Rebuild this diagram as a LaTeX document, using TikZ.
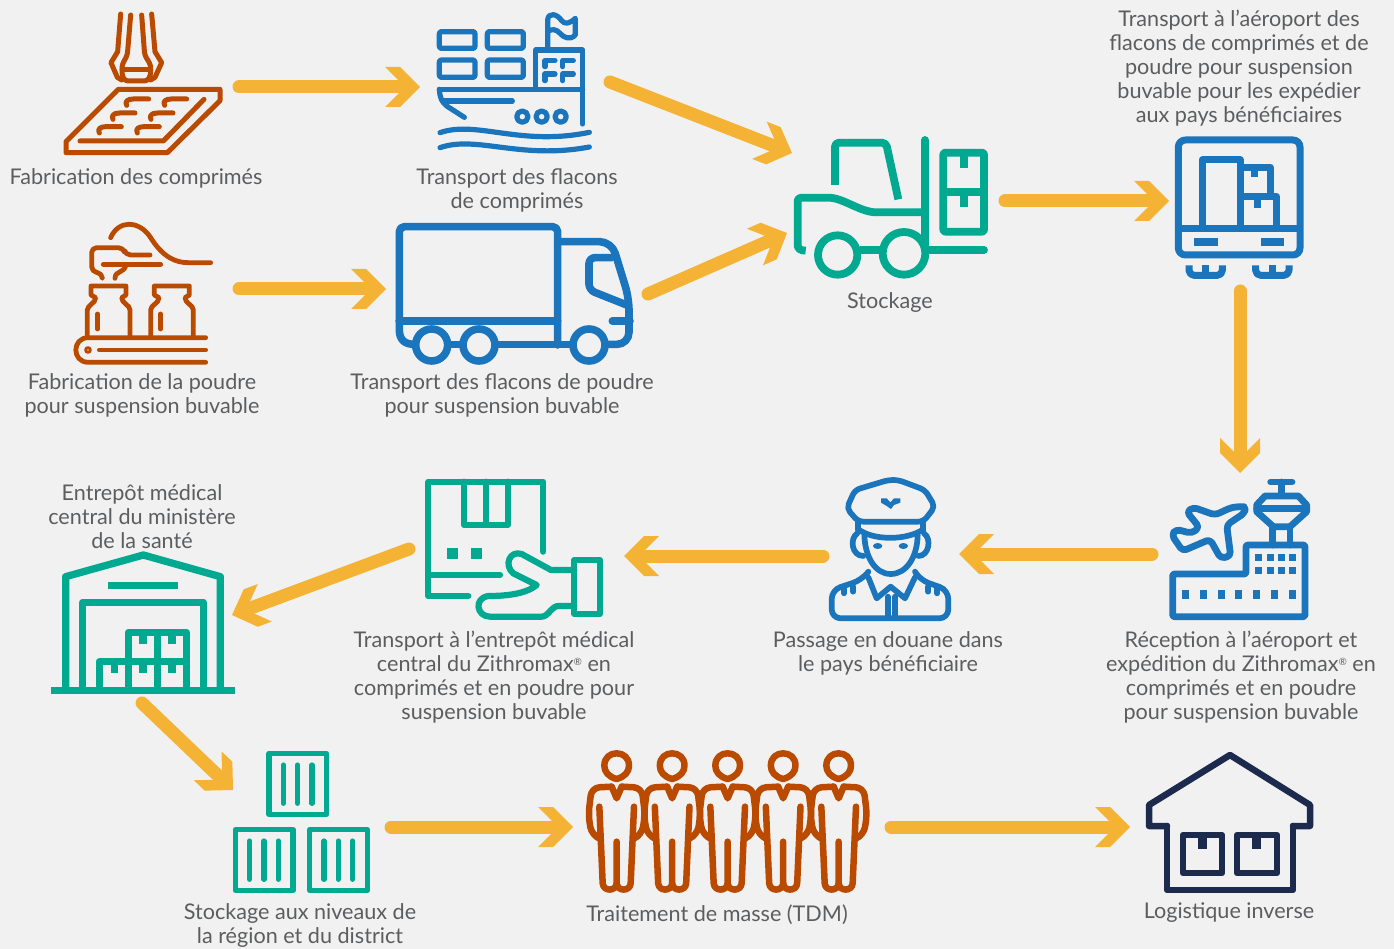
\documentclass[tikz,border=0pt]{standalone}
\usepackage{fontspec}
\setmainfont{Lato}
\usetikzlibrary{arrows.meta}
\definecolor{bgc}{HTML}{F1F1F1}
\definecolor{rustc}{HTML}{BA4A00}
\definecolor{bluec}{HTML}{1B75BC}
\definecolor{tealc}{HTML}{00A98F}
\definecolor{navyc}{HTML}{1C2B4D}
\definecolor{arrowc}{HTML}{F4B335}
\definecolor{textc}{HTML}{5C5D5F}
\pgfdeclarearrow{
  name=Chev,
  setup code={
    \pgfarrowssettipend{0pt}
    \pgfarrowssetlineend{-17pt}
    \pgfarrowssetvisualbackend{-17pt}
    \pgfarrowssetbackend{-35pt}
  },
  drawing code={
    \pgfsetfillcolor{arrowc}
    \pgfpathmoveto{\pgfqpoint{0pt}{0pt}}
    \pgfpathlineto{\pgfqpoint{-20pt}{20pt}}
    \pgfpathlineto{\pgfqpoint{-35pt}{20pt}}
    \pgfpathlineto{\pgfqpoint{-15pt}{0pt}}
    \pgfpathlineto{\pgfqpoint{-35pt}{-20pt}}
    \pgfpathlineto{\pgfqpoint{-20pt}{-20pt}}
    \pgfpathclose
    \pgfusepathqfill
  }
}
\tikzset{
  zm/.style 2 args={shift={(#1,#2)},x=.33333pt,y=-.33333pt},
  icon/.style={line cap=round,line join=round},
  flow/.style={draw=arrowc,line width=13pt,line cap=round,-{Chev}},
  lab/.style={font=\fontsize{21.6}{24}\selectfont,text=textc,align=center,inner sep=0pt,anchor=center,yshift=-2pt},
  anch/.style={inner sep=0pt,minimum size=0pt},
}
\newcommand{\sq}[4]{\fill (#1,#2) rectangle (#3,#4);}
\newcommand{\regd}{\raisebox{.55ex}{\fontsize{10}{10}\selectfont ®}}
\begin{document}
\begin{tikzpicture}[x=1pt,y=-1pt]
\fill[bgc] (0,0) rectangle (1394,949);
\useasboundingbox (0,0) rectangle (1394,949);

% --- press
\begin{scope}[zm={40}{0},icon,draw=rustc,fill=rustc,line width=5pt]
\node[anch] (press) at (300,250) {};
\draw (242,42)--(233,155)--(213,188)--(232,232)--(245,240);
\draw[rounded corners=3pt] (272,45)--(262,165)--(246,195)--(246,225)--(255,243)--(322,243)--(332,225)--(332,195)--(314,165)--(305,45);
\draw (335,42)--(345,155)--(365,188)--(345,232)--(332,240);
\draw (246,208)--(332,208);
\draw (235,268)--(540,268)--(540,302)--(382,458)--(78,458)--(78,425)--cycle;
\draw (120,423)--(370,423)--(492,298);
\foreach \a/\b in {0/0,114/0,-41/42,73/42,-82/83,32/83}{
  \draw[shift={(\a,\b)}] (326,297)--(280,297) .. controls (262,297) and (254,305) .. (260,316);
}
\end{scope}

% --- ship
\begin{scope}[zm={420}{0},icon,draw=bluec,fill=bluec,line width=5.2pt]
\node[anch] (ship) at (280,200) {};
\draw[rounded corners=2pt] (58,95) rectangle (165,145);
\draw[rounded corners=2pt] (202,95) rectangle (310,145);
\draw[rounded corners=2pt] (58,180) rectangle (165,232);
\draw[rounded corners=2pt] (202,180) rectangle (310,232);
\draw (347,265)--(347,150)--(488,150)--(488,372);
\draw (58,268)--(488,268);
\draw (58,268) .. controls (60,295) and (65,305) .. (80,318) -- (133,352);
\draw (70,303)--(277,303);
\draw (307,350) circle[radius=17];
\draw (365,350) circle[radius=17];
\draw (422,350) circle[radius=17];
\draw (383,150)--(383,60) .. controls (385,35) and (412,42) .. (425,62) .. controls (435,75) and (450,70) .. (466,55) -- (466,105) .. controls (450,122) and (430,112) .. (420,100) .. controls (410,88) and (395,85) .. (383,95);
\draw (60,398) .. controls (170,360) and (300,440) .. (508,397);
\draw (60,443) .. controls (170,405) and (300,480) .. (508,441);
\draw (405,182)--(375,182)--(375,200);
\draw (460,182)--(428,182)--(428,200);
\draw (405,222)--(375,222)--(375,242);
\draw (460,222)--(428,222)--(428,242);
\end{scope}

% --- filling
\begin{scope}[zm={60}{215},icon,draw=rustc,fill=rustc,line width=4.8pt]
\node[anch] (filling) at (240,250) {};
\draw (152,68) .. controls (175,15) and (235,15) .. (270,65) .. controls (310,130) and (350,143) .. (385,143) -- (452,143);
\draw[rounded corners=5pt] (127,188)--(127,175)--(95,170)--(95,98)--(190,98)--(197,120)--(270,120);
\draw (130,148)--(302,148);
\draw (197,148) .. controls (197,175) and (165,165) .. (165,190);
\foreach \s in {0,190}{
 \draw[shift={(\s,0)}] (82,365)--(82,285) .. controls (82,270) and (107,265) .. (107,248) -- (93,240) -- (93,213) -- (198,213) -- (198,240) -- (185,248) .. controls (185,265) and (210,270) .. (210,285) -- (210,365);
 \draw[shift={(\s,0)}] (112,297)--(112,342);
}
\draw (437,368)--(85,368) .. controls (35,368) and (35,442) .. (85,442) -- (437,442);
\draw (118,405)--(437,405);
\draw[line width=3pt] (84,405) circle[radius=7];
\end{scope}

% --- truck
\begin{scope}[zm={385}{215},icon,draw=bluec,fill=bluec,line width=7.6pt]
\node[anch] (truck) at (380,230) {};
\draw[rounded corners=5pt] (43,318)--(43,35)--(518,35)--(518,390);
\draw (43,318)--(518,318);
\draw (43,318)--(43,345) .. controls (43,375) and (60,388) .. (88,388);
\draw (195,388)--(225,388);
\draw (335,388)--(555,388);
\draw[rounded corners=12pt] (670,388)--(732,388)--(732,250)--(680,80)--(518,80);
\draw (140,390) circle[radius=48];
\draw (282,390) circle[radius=48];
\draw (612,390) circle[radius=48];
\draw[rounded corners=6pt] (680,128)--(612,128)--(612,225)--(725,270);
\draw (682,318)--(735,318);
\end{scope}

% --- forklift
\begin{scope}[zm={785}{130},draw=tealc,fill=tealc,line width=7.8pt,line join=round]
\node[anch] (fork) at (320,230) {};
\draw[line cap=round] (420,30)--(420,350);
\draw[line cap=round] (420,360)--(597,360);
\draw[rounded corners=4pt] (150,165)--(150,38)--(303,38)--(340,208);
\draw (62,362) .. controls (45,362) and (38,355) .. (38,345) -- (38,215) .. controls (38,205) and (45,203) .. (55,203) -- (130,203) .. controls (175,203) and (225,247) .. (275,247) -- (410,247);
\draw (158,375) circle[radius=59];
\draw (357,370) circle[radius=64];
\draw (225,360)--(290,360);
\draw[rounded corners=2pt] (475,68) rectangle (597,305);
\draw (475,187)--(597,187);
\fill (525,70) rectangle (548,113);
\fill (525,190) rectangle (548,232);
\end{scope}

% --- container
\begin{scope}[zm={1165}{130},draw=bluec,fill=bluec,line width=7pt,line join=round]
\node[anch] (cont) at (222,230) {};
\draw[rounded corners=7pt] (40,30) rectangle (405,375);
\draw (40,297)--(405,297);
\draw (112,297)--(112,90)--(225,90)--(225,297);
\draw (225,113)--(317,113)--(317,200);
\draw (225,200)--(335,200)--(335,297);
\sq{258}{110}{280}{142}
\sq{267}{200}{289}{235}
\sq{87}{325}{158}{347}
\sq{287}{325}{358}{347}
\foreach \s in {0,200}{
 \draw[shift={(\s,0)},rounded corners=5pt] (72,406)--(72,436)--(172,436)--(172,406);
 \draw[shift={(\s,0)}] (122,406)--(122,430);
}
\end{scope}

% --- airport
\begin{scope}[zm={1160}{470},icon,draw=bluec,fill=bluec,line width=6.8pt]
\node[anch] (airport) at (240,230) {};
\draw (332,36)--(396,36);
\draw (365,36)--(365,75);
\draw (315,78)--(415,78)--(440,105)--(440,125)--(390,170)--(340,170)--(290,125)--(290,105)--cycle;
\draw (290,115)--(440,115);
\draw (338,170)--(338,225);
\draw (390,170)--(390,225);
\draw[rounded corners=2pt] (38,312)--(258,312)--(258,225)--(435,225)--(435,440)--(38,440)--cycle;
\foreach \x in {286,321,354,388}{\sq{\x}{252}{\x+20}{274}\sq{\x}{290}{\x+20}{312}}
\foreach \x in {66,120,174,225,280,333,388}{\sq{\x}{360}{\x+20}{388}}
\draw[rounded corners=4pt] (240,110)--(215,112)--(165,135)--(100,112)--(80,125)--(118,172)--(95,190)--(48,178)--(35,195)--(68,243)--(150,208)--(182,265)--(212,258)--(200,165)--(255,128)--(255,110)--cycle;
\end{scope}

% --- officer
\begin{scope}[zm={820}{470},icon,draw=bluec,fill=bluec,line width=5.7pt]
\node[anch] (officer) at (210,240) {};
\draw[rounded corners=5pt] (105,60)--(205,30)--(235,30)--(315,60)--(345,110)--(310,155)--(115,155)--(80,115)--cycle;
\draw (115,155)--(115,180);
\draw (310,155)--(310,180);
\draw (115,178) .. controls (160,212) and (260,212) .. (310,178);
\fill (183,85)--(200,85)--(211,97)--(222,85)--(241,85)--(241,98)--(222,105)--(213,117)--(200,108)--(183,98)--cycle;
\fill (173,228) ellipse[x radius=14,y radius=9];
\fill (250,228) ellipse[x radius=14,y radius=9];
\draw (133,195) .. controls (135,260) and (165,312) .. (212,312) .. controls (260,312) and (292,260) .. (293,195);
\draw (112,190) .. controls (88,205) and (95,258) .. (130,258);
\draw (312,190) .. controls (335,205) and (328,258) .. (295,258);
\draw[rounded corners=9pt] (145,305)--(125,330)--(35,360)--(35,445)--(385,445)--(385,360)--(300,330)--(285,305);
\draw (145,322)--(170,385)--(212,350)--(255,385)--(285,322);
\draw (204,380)--(204,440);
\draw (226,380)--(226,440);
\draw (72,355)--(72,370);
\draw (100,350)--(100,365);
\draw (325,350)--(325,365);
\draw (352,355)--(352,370);
\end{scope}

% --- parcel in hand
\begin{scope}[zm={415}{470},icon,draw=tealc,fill=tealc,line width=6.2pt]
\node[anch] (parcel) at (300,230) {};
\draw (385,245)--(385,35)--(40,35)--(40,378)--(160,378);
\draw (40,315)--(255,315);
\draw (147,35)--(147,165)--(278,165)--(278,35);
\draw (212,35)--(212,165);
\sq{97}{234}{130}{267}
\sq{168}{234}{201}{267}
\draw (478,270) rectangle (555,432);
\draw (478,300)--(408,300)--(320,252) .. controls (285,240) and (265,285) .. (295,310) -- (365,345) .. controls (330,375) and (260,378) .. (220,378) .. controls (175,385) and (185,440) .. (225,440) -- (380,440) .. controls (400,440) and (410,408) .. (430,408) -- (478,408);
\end{scope}

% --- warehouse
\begin{scope}[zm={40}{545},draw=tealc,fill=tealc,line width=7.3pt,line join=round]
\node[anch] (ware) at (308,250) {};
\sq{32}{425}{585}{447}
\draw (77,430)--(77,95)--(310,30)--(541,95)--(541,430);
\sq{204}{110}{414}{132}
\draw (128,430)--(128,172)--(490,172)--(490,430);
\draw (265,350)--(265,262)--(439,262)--(439,430);
\draw (352,262)--(352,430);
\draw (178,430)--(178,350)--(439,350);
\draw (265,350)--(265,430);
\foreach \x/\y in {298/265,385/265,212/352,298/352,385/352}{\sq{\x}{\y}{\x+22}{\y+32}}
\end{scope}

% --- crates
\begin{scope}[zm={225}{745},draw=tealc,fill=tealc,line width=5.2pt,line join=round,line cap=round]
\node[anch] (crates) at (230,230) {};
\draw (132,25) rectangle (305,208);
\draw (31,254) rectangle (204,436);
\draw (254,254) rectangle (427,436);
\foreach \x in {175,218,261}{\draw (\x,60)--(\x,175);}
\foreach \x in {74,117,160,297,340,383}{\draw (\x,288)--(\x,403);}
\end{scope}

% --- people
\begin{scope}[zm={575}{745},icon,draw=rustc,fill=rustc,line width=6.5pt]
\node[anch] (people) at (458,230) {};
\foreach \s in {0,166.5,333,499.5,666}{
\begin{scope}[shift={(\s,0)}]
\draw (125,102) .. controls (100,95) and (88,80) .. (88,62) .. controls (88,38) and (105,25) .. (125,25) .. controls (145,25) and (162,38) .. (162,62) .. controls (162,80) and (150,95) .. (125,102);
\draw (110,125)--(125,160)--(140,125);
\draw[rounded corners=8pt] (110,125)--(50,128)--(40,210)--(50,270)--(72,280);
\draw[rounded corners=8pt] (140,125)--(200,128)--(210,210)--(200,270)--(178,280);
\draw (73,185)--(83,415) .. controls (85,440) and (123,440) .. (125,415) -- (125,290);
\draw (125,415) .. controls (127,440) and (165,440) .. (167,415) -- (177,185);
\end{scope}}
\end{scope}

% --- depot
\begin{scope}[icon,draw=navyc,fill=navyc,line width=6.5pt]
\node[anch] (depot) at (1230,825) {};
\draw (1167,826)--(1149,826)--(1149,805)--(1230,755)--(1310,805)--(1310,826)--(1293,826);
\draw (1167,826)--(1167,890)--(1293,890)--(1293,826);
\draw (1183,835) rectangle (1222,873);
\draw (1237,835) rectangle (1277,873);
\fill (1198,835) rectangle (1207,849);
\fill (1252,835) rectangle (1261,849);
\end{scope}

% --- labels
\node[lab] (l1) at (136,176) {Fabrication des comprimés};
\node[lab] (l2) at (517,188) {Transport des flacons\\ de comprimés};
\node[lab] (l3) at (890,301) {Stockage};
\node[lab] (l4) at (1239,66) {Transport à l’aéroport des\\ flacons de comprimés et de\\ poudre pour suspension\\ buvable pour les expédier\\ aux pays bénéficiaires};
\node[lab] (l5) at (142,393) {Fabrication de la poudre\\ pour suspension buvable};
\node[lab] (l6) at (502,393) {Transport des flacons de poudre\\ pour suspension buvable};
\node[lab] (l7) at (142,515) {Entrepôt médical\\ central du ministère\\ de la santé};
\node[lab] (l8) at (494,675) {Transport à l’entrepôt médical\\ central du Zithromax\regd{} en\\ comprimés et en poudre pour\\ suspension buvable};
\node[lab] (l9) at (888,651) {Passage en douane dans\\ le pays bénéficiaire};
\node[lab] (l10) at (1241,675) {Réception à l’aéroport et\\ expédition du Zithromax\regd{} en\\ comprimés et en poudre\\ pour suspension buvable};
\node[lab] (l11) at (300,924) {Stockage aux niveaux de\\ la région et du district};
\node[lab] (l12) at (717,913) {Traitement de masse (TDM)};
\node[lab] (l13) at (1229,911) {Logistique inverse};

% --- connector ends
\coordinate (a1) at (239,87);    \coordinate (b1) at (420,87);
\coordinate (a2) at (610,82);    \coordinate (b2) at (792,153);
\coordinate (a3) at (239,289);   \coordinate (b3) at (386,289);
\coordinate (a4) at (648,294);   \coordinate (b4) at (787,233);
\coordinate (a5) at (1005,201);  \coordinate (b5) at (1169,201);
\coordinate (a6) at (1240,291);  \coordinate (b6) at (1240,473);
\coordinate (a7) at (1152,554);  \coordinate (b7) at (959,554);
\coordinate (a8) at (823,556);   \coordinate (b8) at (624,556);
\coordinate (a9) at (409,549);   \coordinate (b9) at (232,615);
\coordinate (a10) at (142,703);  \coordinate (b10) at (233,790);
\coordinate (a11) at (391,827);  \coordinate (b11) at (573,827);
\coordinate (a12) at (891,827);  \coordinate (b12) at (1130,827);
\foreach \i in {1,...,12}{\draw[flow] (a\i)--(b\i);}
\end{tikzpicture}
\end{document}
